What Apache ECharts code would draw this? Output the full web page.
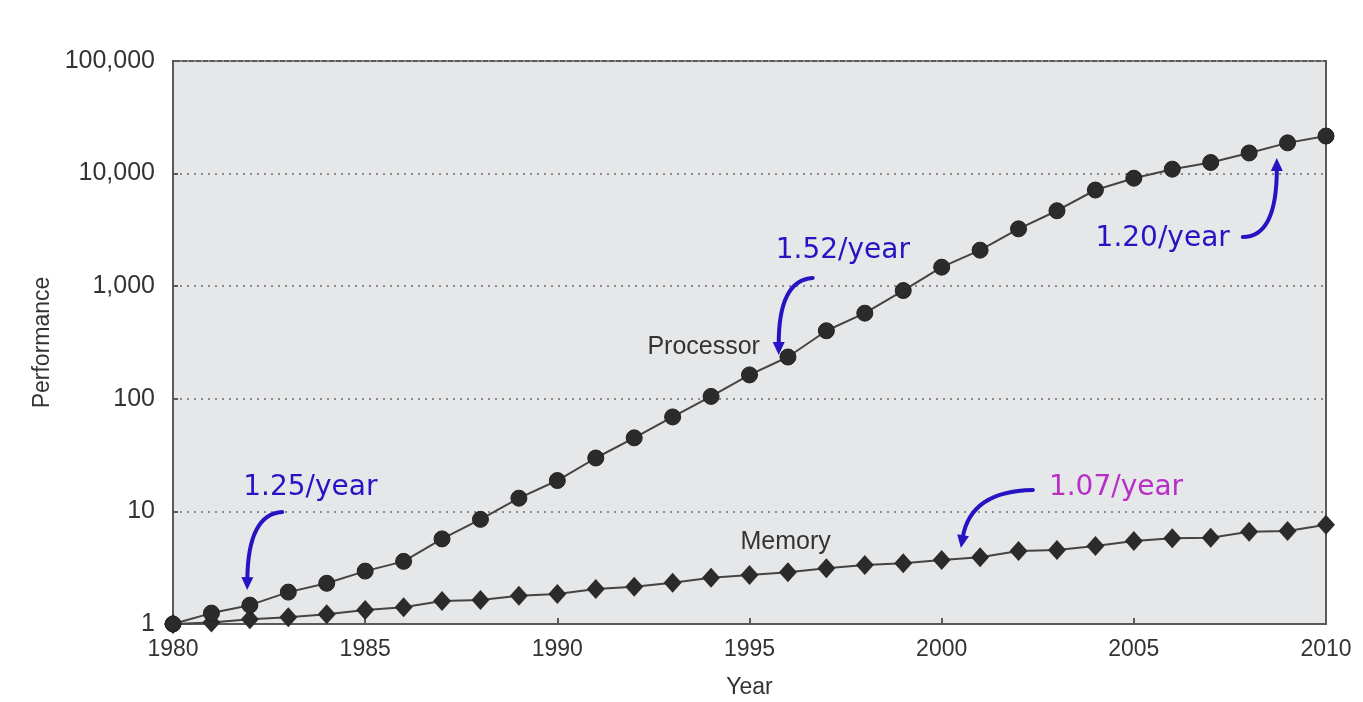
<!DOCTYPE html>
<html>
<head>
<meta charset="utf-8">
<title>Processor vs Memory performance</title>
<style>
  html, body { margin: 0; padding: 0; background: #fff; }
  #chart { width: 1363px; height: 702px; }
</style>
<script src="https://cdn.jsdelivr.net/npm/echarts@6/dist/echarts.min.js"></script>
</head>
<body>
<div id="chart"></div>
<script>
const years = [1980, 1981, 1982, 1983, 1984, 1985, 1986, 1987, 1988, 1989,
  1990, 1991, 1992, 1993, 1994, 1995, 1996, 1997, 1998, 1999,
  2000, 2001, 2002, 2003, 2004, 2005, 2006, 2007, 2008, 2009, 2010];

const processor = [1, 1.25, 1.47, 1.92, 2.3, 2.95, 3.6, 5.7, 8.5, 13.1,
  18.8, 29.8, 45, 69, 105, 163, 235, 402, 576, 915,
  1475, 2090, 3230, 4680, 7150, 9100, 10950, 12550, 15250, 18750, 21550];

const memory = [1, 1.03, 1.1, 1.15, 1.22, 1.33, 1.41, 1.6, 1.63, 1.78,
  1.85, 2.05, 2.14, 2.33, 2.58, 2.72, 2.88, 3.12, 3.34, 3.46,
  3.7, 3.91, 4.45, 4.54, 4.93, 5.46, 5.77, 5.84, 6.6, 6.7, 7.6];

const yTicks = [1, 10, 100, 1000, 10000, 100000];

// growth-rate notes: text and the [year, value] the arrow points at
const noteTexts = ['1.25/year', '1.52/year', '1.20/year', '1.07/year'];
const noteTargets = [[1981.93, 2.0], [1995.76, 245], [2008.72, 13770], [2000.5, 4.73]];

const BLUE = '#2614c4';
const MAGENTA = '#b62fc6';
const INK = '#333';
const FONT = '"Liberation Sans", Arial, sans-serif';

// pixel offsets from the arrow tip: start, control point, text anchor
const noteStyle = [
  { s: [35, -78], c: [1, -76], t: [-4, -102], align: 'left', color: BLUE, arrow: BLUE },
  { s: [34, -77], c: [0, -75], t: [-3, -104], align: 'left', color: BLUE, arrow: BLUE },
  { s: [-34, 79], c: [0, 79], t: [-47, 81], align: 'right', color: BLUE, arrow: BLUE },
  { s: [72, -58], c: [10, -57], t: [88, -60], align: 'left', color: MAGENTA, arrow: BLUE }
];

const chart = echarts.init(document.getElementById('chart'));

const lineStyle = { color: '#444', width: 2 };

chart.setOption({
  backgroundColor: '#fff',
  animation: false,
  grid: {
    left: 173, top: 61, right: 37, bottom: 78,
    show: true,
    backgroundColor: '#e6e7e9',
    borderColor: '#5a5a5a',
    borderWidth: 2,
    containLabel: false,
    outerBoundsMode: 'none'
  },
  xAxis: {
    type: 'value',
    min: 1980,
    max: 2010,
    interval: 5,
    name: 'Year',
    nameLocation: 'middle',
    nameGap: 52,
    nameTextStyle: { fontFamily: FONT, fontSize: 23, color: INK },
    axisLine: { show: true, lineStyle: { color: '#5a5a5a', width: 2 } },
    axisTick: { show: true, inside: true, length: 6, lineStyle: { color: '#5a5a5a', width: 2 } },
    axisLabel: { fontFamily: FONT, fontSize: 23, color: INK, margin: 14, formatter: v => String(v) },
    splitLine: { show: false }
  },
  yAxis: {
    type: 'log',
    logBase: 10,
    min: yTicks[0],
    max: yTicks[yTicks.length - 1],
    name: 'Performance',
    nameLocation: 'middle',
    nameGap: 113,
    nameRotate: 90,
    nameTextStyle: { fontFamily: FONT, fontSize: 23, color: INK },
    axisLine: { show: true, lineStyle: { color: '#5a5a5a', width: 2 } },
    axisTick: { show: true, inside: true, length: 5, lineStyle: { color: '#5a5a5a', width: 2 } },
    axisLabel: {
      fontFamily: FONT, fontSize: 25, color: INK, margin: 18,
      formatter: v => Math.round(v).toLocaleString('en-US')
    },
    splitLine: { show: true, lineStyle: { color: '#8a8a8a', type: [2, 5], width: 2 } }
  },
  series: [
    {
      name: 'Processor',
      type: 'line',
      data: years.map((y, i) => [y, processor[i]]),
      symbol: 'circle',
      symbolSize: 16,
      itemStyle: { color: '#2b2b2b', borderColor: '#222', borderWidth: 1 },
      lineStyle: lineStyle,
      z: 3
    },
    {
      name: 'Memory',
      type: 'line',
      data: years.map((y, i) => [y, memory[i]]),
      symbol: 'diamond',
      symbolSize: [18, 20],
      itemStyle: { color: '#2b2b2b' },
      lineStyle: lineStyle,
      z: 2
    }
  ]
});

function drawNotes() {
  const elements = [];

  // series name labels placed beside their lines
  const procAt = chart.convertToPixel({ gridIndex: 0 }, [1996, 235]);
  const memAt = chart.convertToPixel({ gridIndex: 0 }, [1995, 2.72]);
  elements.push({
    type: 'text', x: procAt[0] - 28, y: procAt[1] - 10,
    style: { text: 'Processor', font: '25px ' + FONT, fill: INK, align: 'right', verticalAlign: 'middle' }
  });
  elements.push({
    type: 'text', x: memAt[0] - 9, y: memAt[1] - 33,
    style: { text: 'Memory', font: '25px ' + FONT, fill: INK, align: 'left', verticalAlign: 'middle' }
  });

  noteTexts.forEach((label, i) => {
    const tip = chart.convertToPixel({ gridIndex: 0 }, noteTargets[i]);
    const st = noteStyle[i];
    const sx = tip[0] + st.s[0], sy = tip[1] + st.s[1];
    const cx = tip[0] + st.c[0], cy = tip[1] + st.c[1];
    // shorten the curve so the head sits on the tip
    let dx = tip[0] - cx, dy = tip[1] - cy;
    const len = Math.sqrt(dx * dx + dy * dy) || 1;
    dx /= len; dy /= len;
    const headLen = 13, headHalf = 6;
    const bx = tip[0] - dx * headLen, by = tip[1] - dy * headLen;
    elements.push({
      type: 'bezierCurve',
      shape: { x1: sx, y1: sy, cpx1: cx, cpy1: cy, x2: bx + dx * 2, y2: by + dy * 2 },
      style: { stroke: st.arrow, lineWidth: 4, fill: null, lineCap: 'round' },
      z: 10
    });
    elements.push({
      type: 'polygon',
      shape: {
        points: [
          [tip[0], tip[1]],
          [bx - dy * headHalf, by + dx * headHalf],
          [bx + dy * headHalf, by - dx * headHalf]
        ]
      },
      style: { fill: st.arrow },
      z: 10
    });
    elements.push({
      type: 'text',
      x: tip[0] + st.t[0], y: tip[1] + st.t[1],
      style: {
        text: label, font: '28px "DejaVu Sans", Verdana, sans-serif',
        fill: st.color, align: st.align, verticalAlign: 'middle'
      },
      z: 10
    });
  });

  chart.setOption({ graphic: { elements: elements } });
}

drawNotes();
</script>
</body>
</html>
